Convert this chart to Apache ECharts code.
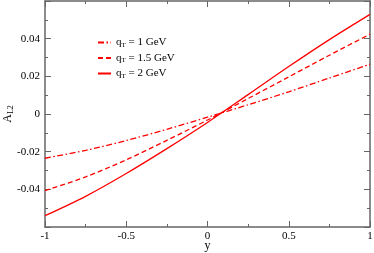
<!DOCTYPE html>
<html><head><meta charset="utf-8">
<script src="https://cdn.jsdelivr.net/npm/echarts@6/dist/echarts.min.js"></script>
<style>html,body{margin:0;padding:0;background:#fff}#c{width:374px;height:253px}</style>
</head><body><div id="c"></div>
<script>
var xs = [-1, -0.75, -0.5, -0.25, 0, 0.25, 0.5, 0.75, 1];
var qt1 = [-0.0235, -0.0193, -0.0141, -0.0081, -0.0017, 0.0049, 0.0118, 0.0191, 0.0264];
var qt15 = [-0.0407, -0.0334, -0.0243, -0.0140, -0.0032, 0.0082, 0.0197, 0.0312, 0.0424];
var qt2 = [-0.0540, -0.0437, -0.0316, -0.0184, -0.0045, 0.0103, 0.0252, 0.0395, 0.0529];
var names = ['qT = 1 GeV', 'qT = 1.5 GeV', 'qT = 2 GeV'];
var yTicks = [-0.04, -0.02, 0, 0.02, 0.04];
var xTicks = [-1, -0.5, 0, 0.5, 1];

function pairs(v){ return xs.map(function(x,i){ return [x, v[i]]; }); }
var FONT = '"Liberation Serif", "DejaVu Serif", serif';
var axisColor = '#666';
var chart = echarts.init(document.getElementById('c'));
var styles = [
  {type:[6,2.5,1.5,2.5]},
  {type:[5,3]},
  {type:'solid'}
];
var vals = [qt1, qt15, qt2];
var series = vals.map(function(v,i){
  return {name:names[i], type:'line', data:pairs(v), smooth:0.3, symbol:'none',
    xAxisIndex:0, yAxisIndex:0,
    lineStyle:{color:'#ff0000', width:1.3, type:styles[i].type}, itemStyle:{color:'#ff0000'}};
});
function yfmt(v){
  var r = Math.round(v*100)/100;
  for (var k=0;k<yTicks.length;k++){ if (Math.abs(yTicks[k]-r)<1e-9) return r===0?'0':String(r); }
  return '';
}
function xfmt(v){
  var r = Math.round(v*100)/100;
  for (var k=0;k<xTicks.length;k++){ if (Math.abs(xTicks[k]-r)<1e-9) return String(r); }
  return '';
}
var common = {
  axisLine:{show:true, onZero:false, lineStyle:{color:axisColor, width:1.5}},
  axisTick:{show:true, inside:true, length:6, lineStyle:{color:axisColor, width:1}},
  minorTick:{show:true, splitNumber:2, length:3, lineStyle:{color:axisColor, width:1}},
  splitLine:{show:false}
};
function ax(extra){ return Object.assign({}, JSON.parse(JSON.stringify(common)), extra); }
chart.setOption({
  animation:false,
  backgroundColor:'#fff',
  grid:{left:45, right:4, top:1, bottom:26, containLabel:false, outerBoundsMode:'none'},
  legend:{orient:'vertical', left:97, top:37, padding:0, itemWidth:13, itemHeight:10, itemGap:4,
    itemStyle:{opacity:0},
    formatter:function(n){ return n.replace('qT', '{q|q}{s|T}'); },
    textStyle:{fontFamily:FONT, fontSize:11, color:'#000',
      rich:{q:{fontFamily:FONT, fontSize:11, color:'#000'}, s:{fontFamily:FONT, fontSize:7, color:'#000', verticalAlign:'bottom', padding:[5,0,0,0]}}},
    data:names},
  xAxis:[
    ax({type:'value', min:-1, max:1, interval:0.5, position:'bottom',
      name:'y', nameLocation:'middle', nameGap:13, nameMoveOverlap:false,
      nameTextStyle:{fontFamily:FONT, fontSize:12, color:'#000'},
      axisLabel:{fontFamily:FONT, fontSize:11, color:'#000', margin:4, formatter:xfmt}}),
    ax({type:'value', min:-1, max:1, interval:0.5, position:'top', axisLabel:{show:false}})
  ],
  yAxis:[
    ax({type:'value', min:-0.06, max:0.06, interval:0.02, position:'left',
      name:'{a|A}{b|L2}', nameLocation:'middle', nameGap:30, nameRotate:90, nameMoveOverlap:false,
      nameTextStyle:{fontFamily:FONT, fontSize:12, color:'#000',
        rich:{a:{fontFamily:FONT, fontSize:12, color:'#000'}, b:{fontFamily:FONT, fontSize:8, color:'#000', verticalAlign:'bottom', padding:[6,0,0,0]}}},
      axisLabel:{fontFamily:FONT, fontSize:11, color:'#000', margin:5, formatter:yfmt}}),
    ax({type:'value', min:-0.06, max:0.06, interval:0.02, position:'right', axisLabel:{show:false}})
  ],
  series:series
});
</script></body></html>
